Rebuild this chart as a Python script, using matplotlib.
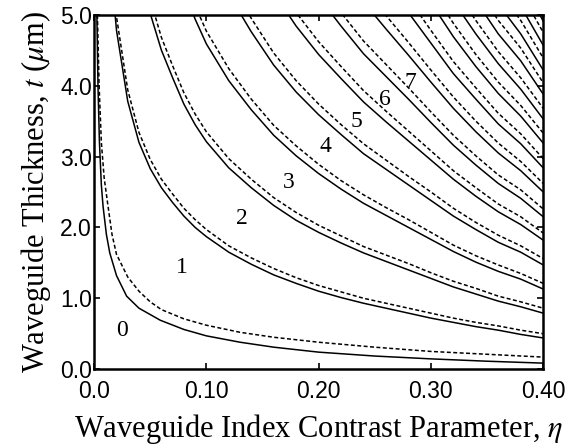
import matplotlib
matplotlib.use('Agg')
import matplotlib.pyplot as plt

plt.rcParams['mathtext.fontset'] = 'stix'

# eta columns used by the upper curves; each list below fills the LAST
# len(list) columns (a curve leaves the top of the frame on its left end)
eta_cols = [0.015, 0.02, 0.03, 0.04, 0.05, 0.06, 0.07, 0.08, 0.09, 0.10,
            0.12, 0.14, 0.16, 0.18, 0.20, 0.22, 0.24, 0.26, 0.28, 0.30,
            0.32, 0.34, 0.36, 0.38, 0.40]

# lowest pair (mode 0 cutoff) has its own eta points
m0_eta = [0.0025, 0.0035, 0.0048, 0.0065, 0.008, 0.011, 0.014, 0.02, 0.029,
          0.04, 0.059, 0.08, 0.10, 0.13, 0.16, 0.20, 0.25, 0.30, 0.35, 0.40]
m0_solid = [5.0, 4.0, 3.2, 2.6, 2.3, 1.9, 1.64, 1.32, 1.03, 0.86, 0.69, 0.56,
            0.47, 0.38, 0.31, 0.24, 0.185, 0.145, 0.112, 0.085]
m0_dash_eta = [0.003, 0.0045, 0.0065, 0.009, 0.012, 0.016, 0.02, 0.03, 0.04,
               0.05, 0.06, 0.08, 0.10, 0.13, 0.16, 0.20, 0.25, 0.30, 0.35, 0.40]
m0_dashed = [5.0, 4.0, 3.2, 2.7, 2.35, 1.9, 1.62, 1.3, 1.1, 0.95, 0.84, 0.71,
             0.62, 0.52, 0.45, 0.38, 0.31, 0.25, 0.21, 0.17]

solid_t = [
    [5.66, 4.78, 3.78, 3.2, 2.83, 2.56, 2.35, 2.16, 2.0, 1.87, 1.65, 1.48,
     1.33, 1.21, 1.10, 1.01, 0.93, 0.86, 0.79, 0.72, 0.66, 0.60, 0.55, 0.49,
     0.44],
    [5.71, 5.02, 4.50, 4.11, 3.74, 3.45, 3.21, 2.84, 2.56, 2.31, 2.10, 1.93,
     1.78, 1.64, 1.52, 1.40, 1.28, 1.16, 1.06, 0.96, 0.88, 0.79],
    [5.34, 4.94, 4.59, 4.07, 3.66, 3.30, 3.01, 2.76, 2.54, 2.34, 2.17, 2.00,
     1.83, 1.66, 1.51, 1.38, 1.27, 1.13],
    [5.29, 4.76, 4.29, 3.91, 3.59, 3.31, 3.04, 2.82, 2.60, 2.38, 2.16, 1.97,
     1.79, 1.65, 1.47],
    [5.31, 4.84, 4.44, 4.10, 3.77, 3.49, 3.22, 2.95, 2.68, 2.44, 2.22, 2.04,
     1.82],
    [5.25, 4.84, 4.45, 4.13, 3.81, 3.48, 3.16, 2.88, 2.62, 2.41, 2.15],
    [5.63, 5.18, 4.80, 4.43, 4.05, 3.68, 3.35, 3.05, 2.80, 2.50],
    [5.45, 5.03, 4.60, 4.17, 3.81, 3.46, 3.18, 2.84],
    [5.65, 5.17, 4.69, 4.27, 3.89, 3.57, 3.19],
    [5.72, 5.19, 4.73, 4.31, 3.95, 3.53],
    [5.70, 5.20, 4.73, 4.35, 3.88],
    [5.65, 5.15, 4.73, 4.22],
    [5.58, 5.12, 4.57],
    [5.50, 4.91],
]
dashed_t = [
    [5.87, 4.97, 3.94, 3.34, 2.96, 2.68, 2.47, 2.27, 2.11, 1.97, 1.74, 1.57,
     1.42, 1.29, 1.18, 1.09, 1.0, 0.93, 0.86, 0.79, 0.72, 0.66, 0.61, 0.55,
     0.50],
    [5.93, 5.22, 4.68, 4.28, 3.90, 3.60, 3.35, 2.97, 2.68, 2.42, 2.21, 2.03,
     1.88, 1.73, 1.61, 1.49, 1.36, 1.24, 1.14, 1.03, 0.95, 0.86],
    [5.55, 5.13, 4.77, 4.24, 3.81, 3.44, 3.15, 2.89, 2.66, 2.46, 2.28, 2.11,
     1.93, 1.75, 1.60, 1.47, 1.35, 1.21],
    [5.49, 4.95, 4.46, 4.07, 3.74, 3.45, 3.18, 2.95, 2.72, 2.50, 2.27, 2.07,
     1.89, 1.74, 1.56],
    [5.51, 5.03, 4.62, 4.27, 3.93, 3.64, 3.36, 3.08, 2.80, 2.56, 2.33, 2.15,
     1.92],
    [5.45, 5.03, 4.63, 4.30, 3.97, 3.63, 3.30, 3.01, 2.74, 2.53, 2.26],
    [5.84, 5.38, 4.99, 4.61, 4.22, 3.84, 3.50, 3.19, 2.93, 2.62],
    [5.66, 5.23, 4.78, 4.34, 3.97, 3.61, 3.32, 2.97],
    [5.86, 5.37, 4.88, 4.44, 4.05, 3.72, 3.33],
    [5.94, 5.39, 4.92, 4.48, 4.11, 3.68],
    [5.92, 5.40, 4.92, 4.53, 4.04],
    [5.86, 5.35, 4.92, 4.39],
    [5.79, 5.32, 4.75],
    [5.71, 5.10],
]

mode_labels = ['0', '1', '2', '3', '4', '5', '6', '7']
label_eta = [0.025, 0.078, 0.132, 0.173, 0.206, 0.234, 0.259, 0.282]
label_t = [0.55, 1.43, 2.13, 2.64, 3.14, 3.49, 3.81, 4.05]

x_ticks = [0.0, 0.10, 0.20, 0.30, 0.40]
x_ticklabels = ['0.0', '0.10', '0.20', '0.30', '0.40']
y_ticks = [0.0, 1.0, 2.0, 3.0, 4.0, 5.0]
y_ticklabels = ['0.0', '1.0', '2.0', '3.0', '4.0', '5.0']

DASH = (0, (2.6, 1.6))

fig = plt.figure(figsize=(5.7, 4.48), dpi=100)
ax = fig.add_axes([0.165, 0.176, 0.788, 0.791])

ax.plot(m0_eta, m0_solid, color='black', lw=1.1)
ax.plot(m0_dash_eta, m0_dashed, color='black', lw=1.1, ls=DASH)
for ty in solid_t:
    ax.plot(eta_cols[-len(ty):], ty, color='black', lw=1.1)
for ty in dashed_t:
    ax.plot(eta_cols[-len(ty):], ty, color='black', lw=1.1, ls=DASH)

for s, ex, ty in zip(mode_labels, label_eta, label_t):
    ax.text(ex, ty, s, family='Liberation Serif', fontsize=17,
            ha='center', va='center')

ax.set_xlim(0, 0.40)
ax.set_ylim(0, 5.0)
ax.set_xticks(x_ticks)
ax.set_xticklabels(x_ticklabels, family='Liberation Sans', fontsize=16.5)
ax.set_yticks(y_ticks)
ax.set_yticklabels(y_ticklabels, family='Liberation Sans', fontsize=16.5)
ax.tick_params(direction='in', length=4, width=1.2, top=True, right=True)
ax.tick_params(axis='x', pad=8)
ax.tick_params(axis='y', pad=1.5)
for sp in ax.spines.values():
    sp.set_linewidth(1.8)

ax.set_xlabel(r'Waveguide Index Contrast Parameter, $\eta$',
              family='Liberation Serif', fontsize=22, labelpad=6.5)
ax.set_ylabel(r'Waveguide Thickness, $t$ ($\mu$m)',
              family='Liberation Serif', fontsize=22, labelpad=5)

fig.savefig('out.png', dpi=100)
